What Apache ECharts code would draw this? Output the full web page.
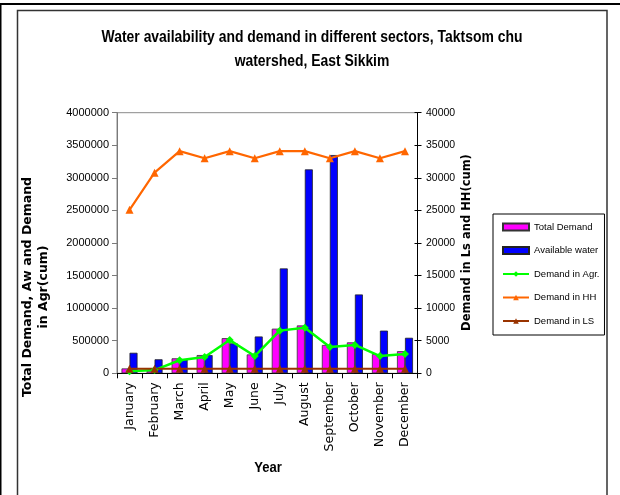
<!DOCTYPE html>
<html>
<head>
<meta charset="utf-8">
<title>Water availability and demand, Taktsom chu watershed</title>
<script src="https://cdn.jsdelivr.net/npm/echarts@6/dist/echarts.min.js"></script>
<style>
  html, body { margin: 0; padding: 0; background: #ffffff; }
  #chart { width: 620px; height: 495px; }
</style>
</head>
<body>
<div id="chart"></div>
<script>
// Monthly categories
const months = ['January', 'February', 'March', 'April', 'May', 'June',
  'July', 'August', 'September', 'October', 'November', 'December'];

// Left axis series (cum)
const totalDemand = [75000, 40000, 230000, 280000, 540000, 290000,
  685000, 735000, 435000, 475000, 295000, 340000];
const availableWater = [315000, 215000, 210000, 280000, 460000, 565000,
  1610000, 3130000, 3350000, 1210000, 655000, 545000];
const demandAgr = [30000, 50000, 200000, 250000, 510000, 265000,
  655000, 700000, 405000, 435000, 265000, 295000];

// Right axis series (cum)
const demandHH = [25100, 30800, 34100, 33000, 34100, 33000,
  34100, 34100, 33000, 34100, 33000, 34100];
const demandLS = [700, 700, 700, 700, 700, 700, 700, 700, 700, 700, 700, 700];

// Axis ranges
const leftMax = 4000000, leftStep = 500000;
const rightMax = 40000, rightStep = 5000;

const chart = echarts.init(document.getElementById('chart'), null, { renderer: 'canvas' });

const labelFont = 'Liberation Sans, Arial, sans-serif';
const titleFont = '"Liberation Sans", Arial, sans-serif';
const axisTitleFont = '"DejaVu Sans", sans-serif';
const plain = v => String(v);

chart.setOption({
  backgroundColor: '#ffffff',
  animation: false,
  grid: {
    left: 117, right: 202.5, top: 112.7, bottom: 121.7,
    show: true, borderColor: '#8a8a8a', borderWidth: 1, backgroundColor: '#ffffff'
  },
  legend: {
    orient: 'vertical',
    left: 493, top: 214,
    padding: [8, 5, 9, 9],
    itemWidth: 26, itemHeight: 7, itemGap: 13.5,
    borderColor: '#000', borderWidth: 1,
    textStyle: { fontFamily: labelFont, fontSize: 9.5, color: '#000' },
    data: [
      { name: 'Total Demand', icon: 'rect' },
      { name: 'Available water', icon: 'rect' },
      'Demand in Agr.', 'Demand in HH', 'Demand in LS'
    ]
  },
  xAxis: {
    type: 'category',
    data: months,
    axisLine: { lineStyle: { color: '#000', width: 1 } },
    axisTick: { show: true, inside: false, length: 5, lineStyle: { color: '#000' } },
    axisLabel: {
      rotate: 90, margin: 9, interval: 0,
      fontFamily: axisTitleFont, fontSize: 12.5, color: '#000'
    },
    splitLine: { show: false }
  },
  yAxis: [
    {
      type: 'value', position: 'left',
      min: 0, max: leftMax, interval: leftStep,
      axisLine: { show: true, lineStyle: { color: '#7a7a7a' } },
      axisTick: { show: true, inside: false, length: 5, lineStyle: { color: '#7a7a7a' } },
      axisLabel: { margin: 8, formatter: plain, fontFamily: labelFont, fontSize: 11, color: '#000' },
      splitLine: { show: false }
    },
    {
      type: 'value', position: 'right',
      min: 0, max: rightMax, interval: rightStep,
      axisLine: { show: true, lineStyle: { color: '#000' } },
      axisTick: { show: true, inside: false, length: 4, lineStyle: { color: '#000' } },
      axisLabel: { margin: 8.5, formatter: plain, fontFamily: labelFont, fontSize: 10.5, color: '#000' },
      splitLine: { show: false }
    },
    {
      // inner half of the crossing ticks on the right axis
      type: 'value', position: 'right',
      min: 0, max: rightMax, interval: rightStep,
      axisLine: { show: false },
      axisTick: { show: true, inside: true, length: 3, lineStyle: { color: '#000' } },
      axisLabel: { show: false },
      splitLine: { show: false }
    }
  ],
  series: [
    {
      name: 'Total Demand', type: 'bar', yAxisIndex: 0,
      data: totalDemand, barWidth: 8, barGap: '0%',
      itemStyle: { color: '#ff00ff', borderColor: '#333', borderWidth: 0.8 }
    },
    {
      name: 'Available water', type: 'bar', yAxisIndex: 0,
      data: availableWater, barWidth: 8, barGap: '0%',
      itemStyle: { color: '#0000ff', borderColor: '#222', borderWidth: 0.8 }
    },
    {
      name: 'Demand in Agr.', type: 'line', yAxisIndex: 0,
      data: demandAgr, symbol: 'diamond', symbolSize: 8,
      lineStyle: { color: '#00ff00', width: 2.5 },
      itemStyle: { color: '#00ff00' }
    },
    {
      name: 'Demand in HH', type: 'line', yAxisIndex: 1,
      data: demandHH, symbol: 'triangle', symbolSize: 8,
      lineStyle: { color: '#ff6600', width: 2.2 },
      itemStyle: { color: '#ff6600' }
    },
    {
      name: 'Demand in LS', type: 'line', yAxisIndex: 1,
      data: demandLS, symbol: 'triangle', symbolSize: 8,
      lineStyle: { color: '#993300', width: 2.2 },
      itemStyle: { color: '#993300' }
    }
  ],
  graphic: [
    // outer page edge
    { type: 'rect', shape: { x: 0, y: 3, width: 620, height: 2 }, style: { fill: '#000' }, silent: true },
    { type: 'rect', shape: { x: 0, y: 3, width: 1.5, height: 492 }, style: { fill: '#000' }, silent: true },
    // chart frame
    {
      type: 'rect', shape: { x: 17.5, y: 10.5, width: 589.5, height: 500 },
      style: { fill: null, stroke: '#333', lineWidth: 1.5 }, silent: true, z: -1
    },
    {
      // condensed bold heading
      type: 'text', x: 312, y: 50, scaleX: 0.87,
      style: {
        text: 'Water availability and demand in different sectors, Taktsom chu\nwatershed, East Sikkim',
        align: 'center', verticalAlign: 'middle', lineHeight: 24,
        font: 'bold 16px ' + titleFont, fill: '#000'
      }
    },
    {
      type: 'text', x: 268, y: 468, scaleX: 0.87,
      style: { text: 'Year', align: 'center', verticalAlign: 'middle', font: 'bold 15px ' + titleFont, fill: '#000' }
    },
    {
      type: 'text', x: 35.5, y: 287, rotation: Math.PI / 2,
      style: {
        text: 'Total Demand, Aw and Demand\nin Agr(cum)',
        align: 'center', verticalAlign: 'middle', lineHeight: 16,
        font: 'bold 12.5px ' + axisTitleFont, fill: '#000'
      }
    },
    {
      type: 'text', x: 467.5, y: 242.5, rotation: Math.PI / 2,
      style: {
        text: 'Demand in Ls and HH(cum)',
        align: 'center', verticalAlign: 'middle',
        font: 'bold 11.5px ' + axisTitleFont, fill: '#000'
      }
    }
  ]
});
</script>
</body>
</html>
